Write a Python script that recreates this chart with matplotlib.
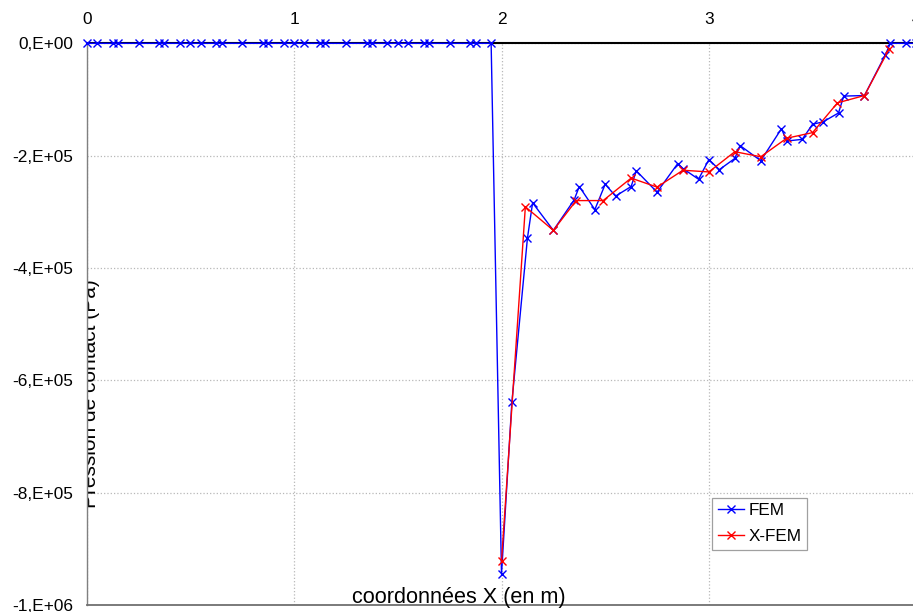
import matplotlib
matplotlib.use('Agg')
import matplotlib.pyplot as plt

plt.rcParams['font.family'] = ['Liberation Sans', 'DejaVu Sans']

# FEM series
fem_x = [0.0, 0.05, 0.125, 0.15, 0.25, 0.35, 0.375, 0.45,
         0.5, 0.55, 0.625, 0.65, 0.75, 0.85, 0.875, 0.95,
         1.0, 1.05, 1.125, 1.15, 1.25, 1.35, 1.375, 1.45,
         1.5, 1.55, 1.625, 1.65, 1.75, 1.85, 1.875, 1.95,
         2.0, 2.05, 2.125, 2.15, 2.25, 2.35, 2.375, 2.45,
         2.5, 2.55, 2.625, 2.65, 2.75, 2.85, 2.875, 2.95,
         3.0, 3.05, 3.125, 3.15, 3.25, 3.35, 3.375, 3.45,
         3.5, 3.55, 3.625, 3.65, 3.75, 3.85, 3.875, 3.95, 4.0]
fem_y = [0, 0, 0, 0, 0, 0, 0, 0,
         0, 0, 0, 0, 0, 0, 0, 0,
         0, 0, 0, 0, 0, 0, 0, 0,
         0, 0, 0, 0, 0, 0, 0, 0,
         -9.45e5, -6.39e5, -3.47e5, -2.84e5, -3.33e5, -2.79e5, -2.55e5, -2.96e5,
         -2.51e5, -2.72e5, -2.55e5, -2.27e5, -2.65e5, -2.14e5, -2.23e5, -2.42e5,
         -2.07e5, -2.25e5, -2.05e5, -1.82e5, -2.09e5, -1.52e5, -1.74e5, -1.71e5,
         -1.44e5, -1.40e5, -1.24e5, -0.94e5, -0.93e5, -0.21e5, 0, 0, 0]

# X-FEM series
xfem_x = [2.0, 2.115, 2.25, 2.36, 2.49, 2.625, 2.75, 2.875,
          3.0, 3.125, 3.25, 3.375, 3.5, 3.62, 3.75, 3.87]
xfem_y = [-9.22e5, -2.91e5, -3.33e5, -2.80e5, -2.80e5, -2.40e5, -2.56e5, -2.26e5,
          -2.29e5, -1.93e5, -2.02e5, -1.69e5, -1.59e5, -1.06e5, -0.93e5, -0.095e5]

x_ticks = [0, 1, 2, 3, 4]
x_tick_labels = ['0', '1', '2', '3', '4']
y_ticks = [0, -2e5, -4e5, -6e5, -8e5, -1e6]
y_tick_labels = ['0,E+00', '-2,E+05', '-4,E+05', '-6,E+05', '-8,E+05', '-1,E+06']

W, H = 913, 612
fig = plt.figure(figsize=(W / 100, H / 100), dpi=100)
x0, x4 = 86.7, 916.3
ytop, ybot = 43.3, 605.0
ax = fig.add_axes([x0 / W, (H - ybot) / H, (x4 - x0) / W, (ybot - ytop) / H])
ax.set_xlim(0, 4)
ax.set_ylim(-1e6, 0)

ax.plot(fem_x, fem_y, color='#0000ff', lw=1, marker='x', ms=6, mew=1,
        label='FEM', clip_on=False, zorder=3)
ax.plot(xfem_x, xfem_y, color='#ff0000', lw=1, marker='x', ms=6, mew=1,
        label='X-FEM', clip_on=False, zorder=4)

ax.set_xticks(x_ticks)
ax.set_xticklabels(x_tick_labels)
ax.set_yticks(y_ticks)
ax.set_yticklabels(y_tick_labels)
ax.xaxis.tick_top()
ax.tick_params(axis='x', length=0, pad=12, labelsize=12.4)
ax.tick_params(axis='y', length=0, pad=10, labelsize=12.4)

ax.grid(True, ls=':', color='#b8b8b8', lw=0.9)
ax.set_axisbelow(True)

ax.spines['left'].set_color('#808080')
ax.spines['left'].set_linewidth(1.0)
ax.spines['bottom'].set_color('#707070')
ax.spines['bottom'].set_linewidth(1.3)
ax.spines['top'].set_color('black')
ax.spines['top'].set_linewidth(1.5)
ax.spines['right'].set_visible(False)

fig.text(459 / W, 1 - 602.5 / H, 'coordonnées X (en m)', ha='center',
         va='baseline', fontsize=15.6)

ylab = ax.text(95.5 / W, 1 - 394 / H, 'Pression de contact (Pa)',
               transform=fig.transFigure, rotation=90, rotation_mode='anchor',
               ha='center', va='baseline', fontsize=15.0, zorder=1)
ylab.set_clip_on(True)
ylab.set_clip_box(ax.bbox)

leg = ax.legend(loc='upper left', bbox_to_anchor=(711.7 / W, 1 - 497.5 / H),
                bbox_transform=fig.transFigure, borderaxespad=0, fancybox=False,
                edgecolor='#a0a0a0', fontsize=12.3, handlelength=1.55,
                framealpha=1, borderpad=0.35, labelspacing=0.6, handletextpad=0.25)
leg.get_frame().set_linewidth(0.9)

fig.savefig('out.png', dpi=100)
